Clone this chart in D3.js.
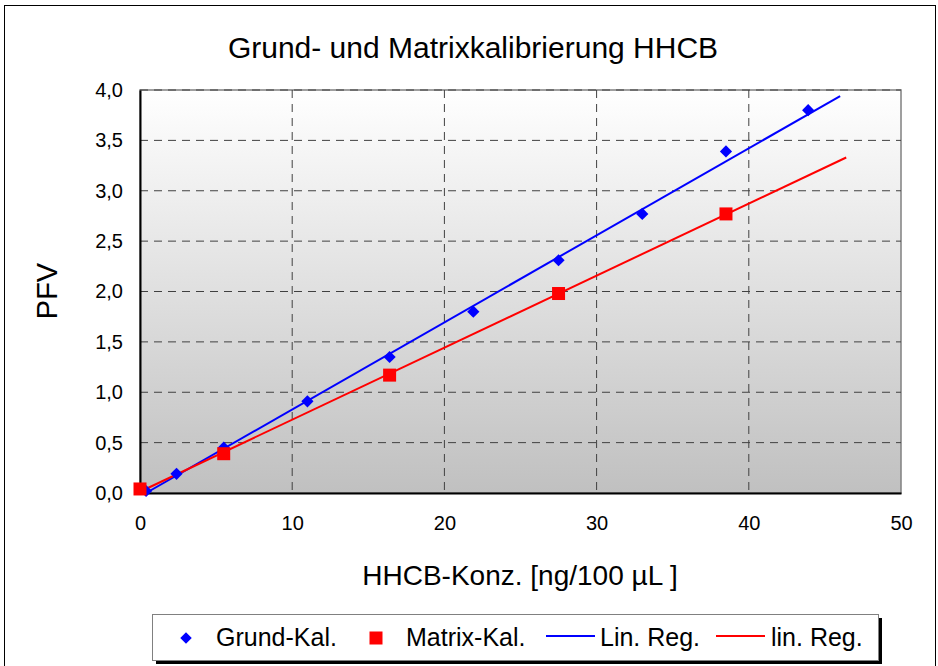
<!DOCTYPE html>
<html>
<head>
<meta charset="utf-8">
<script src="https://cdn.jsdelivr.net/npm/d3@7"></script>
<style>
  body { margin: 0; background: #fff; }
  svg { display: block; font-family: "Liberation Sans", Arial, sans-serif; }
</style>
</head>
<body>
<svg width="938" height="666"></svg>
<script>
// data
const grundX = [0.4, 2.4, 5.5, 11, 16.4, 21.9, 27.5, 33, 38.5, 43.9];
const grundY = [0.02, 0.19, 0.45, 0.91, 1.35, 1.80, 2.31, 2.77, 3.39, 3.80];
const matrixX = [0, 5.5, 16.4, 27.5, 38.5];
const matrixY = [0.04, 0.39, 1.17, 1.98, 2.77];
// trend lines (start / end)
const linRegX = [0.4, 46.0];
const linRegY = [0.0, 3.94];
const linRegMX = [0.1, 46.4];
const linRegMY = [0.02, 3.33];

const xTicks = [0, 10, 20, 30, 40, 50];
const yTicks = [0, 0.5, 1, 1.5, 2, 2.5, 3, 3.5, 4];

const svg = d3.select("svg");
const margin = { top: 90, left: 140, right: 37, bottom: 173 };
const width = 938 - margin.left - margin.right;
const height = 666 - margin.top - margin.bottom;

// outer frame
svg.append("rect")
  .attr("x", 4.5).attr("y", 5.5)
  .attr("width", 931).attr("height", 670)
  .attr("fill", "none").attr("stroke", "#000").attr("stroke-width", 1);

svg.append("text")
  .attr("x", 473).attr("y", 58)
  .attr("text-anchor", "middle")
  .style("font-size", "30px")
  .text("Grund- und Matrixkalibrierung HHCB");

const defs = svg.append("defs");
const grad = defs.append("linearGradient")
  .attr("id", "bg").attr("x1", 0).attr("y1", 0).attr("x2", 0).attr("y2", 1);
grad.append("stop").attr("offset", "0%").attr("stop-color", "#ffffff");
grad.append("stop").attr("offset", "100%").attr("stop-color", "#c0c0c0");

const chart = svg.append("g")
  .attr("transform", `translate(${margin.left},${margin.top})`);

const x = d3.scaleLinear().domain([0, 50]).range([0, width]);
const y = d3.scaleLinear().domain([0, 4]).range([height, 0]);

chart.append("rect")
  .attr("width", width).attr("height", height)
  .attr("fill", "url(#bg)")
  .attr("stroke", "#808080").attr("stroke-width", 1.5);

// grid
chart.append("g").selectAll("line")
  .data(xTicks.slice(1, -1))
  .join("line")
  .attr("x1", d => x(d)).attr("x2", d => x(d))
  .attr("y1", 0).attr("y2", height)
  .attr("stroke", "#404040").attr("stroke-dasharray", "8,6");

chart.append("g").selectAll("line")
  .data(yTicks.slice(1))
  .join("line")
  .attr("x1", 0).attr("x2", width)
  .attr("y1", d => y(d)).attr("y2", d => y(d))
  .attr("stroke", "#404040").attr("stroke-dasharray", "8,6");

// axes
const fmt = d => d3.format(".1f")(d).replace(".", ",");
const xAxis = chart.append("g")
  .attr("transform", `translate(0,${height})`)
  .call(d3.axisBottom(x).tickValues(xTicks).tickSize(0).tickPadding(23));
const yAxis = chart.append("g")
  .call(d3.axisLeft(y).tickValues(yTicks).tickFormat(fmt).tickSize(0).tickPadding(17));
[xAxis, yAxis].forEach(a => {
  a.select(".domain").attr("stroke", "#000").attr("stroke-width", 2);
  a.selectAll("text").style("font-size", "20px").style("font-family", "Liberation Sans, Arial, sans-serif").attr("fill", "#000");
});

// regression lines
const line = d3.line().x(d => x(d[0])).y(d => y(d[1]));
chart.append("path")
  .datum(d3.zip(linRegX, linRegY))
  .attr("d", line).attr("fill", "none")
  .attr("stroke", "#0000ff").attr("stroke-width", 2);
chart.append("path")
  .datum(d3.zip(linRegMX, linRegMY))
  .attr("d", line).attr("fill", "none")
  .attr("stroke", "#ff0000").attr("stroke-width", 2);

// markers
const diamond = d3.symbol().type(d3.symbolDiamond2).size(95);
chart.append("g").selectAll("path")
  .data(d3.zip(grundX, grundY))
  .join("path")
  .attr("d", diamond)
  .attr("transform", d => `translate(${x(d[0])},${y(d[1])})`)
  .attr("fill", "#0000ff");

const sq = 13;
chart.append("g").selectAll("rect")
  .data(d3.zip(matrixX, matrixY))
  .join("rect")
  .attr("x", d => x(d[0]) - sq / 2).attr("y", d => y(d[1]) - sq / 2)
  .attr("width", sq).attr("height", sq)
  .attr("fill", "#ff0000");

// axis titles
svg.append("text")
  .attr("transform", `translate(57,291) rotate(-90)`)
  .attr("text-anchor", "middle")
  .style("font-size", "29px")
  .text("PFV");

svg.append("text")
  .attr("x", 520).attr("y", 585)
  .attr("text-anchor", "middle")
  .style("font-size", "28px")
  .text("HHCB-Konz. [ng/100 µL ]");

// legend
const lg = svg.append("g").attr("transform", "translate(152,614)");
lg.append("rect").attr("x", 4).attr("y", 4).attr("width", 726).attr("height", 46).attr("fill", "#000");
lg.append("rect").attr("x", 0.5).attr("y", 0.5).attr("width", 726).attr("height", 46)
  .attr("fill", "#fff").attr("stroke", "#808080");

const items = [
  { label: "Grund-Kal.", kind: "diamond", color: "#0000ff", x: 34, tx: 64 },
  { label: "Matrix-Kal.", kind: "square", color: "#ff0000", x: 224, tx: 254 },
  { label: "Lin. Reg.", kind: "line", color: "#0000ff", x: 394, tx: 448 },
  { label: "lin. Reg.", kind: "line", color: "#ff0000", x: 564, tx: 619 }
];
items.forEach(it => {
  if (it.kind === "diamond") {
    lg.append("path").attr("d", d3.symbol().type(d3.symbolDiamond2).size(85))
      .attr("transform", `translate(${it.x},24)`).attr("fill", it.color);
  } else if (it.kind === "square") {
    lg.append("rect").attr("x", it.x - 6.5).attr("y", 17.5).attr("width", 13).attr("height", 13).attr("fill", it.color);
  } else {
    lg.append("line").attr("x1", it.x).attr("x2", it.x + 49).attr("y1", 22).attr("y2", 22)
      .attr("stroke", it.color).attr("stroke-width", 2);
  }
  lg.append("text").attr("x", it.tx).attr("y", 32)
    .style("font-size", "25px").text(it.label);
});
</script>
</body>
</html>
